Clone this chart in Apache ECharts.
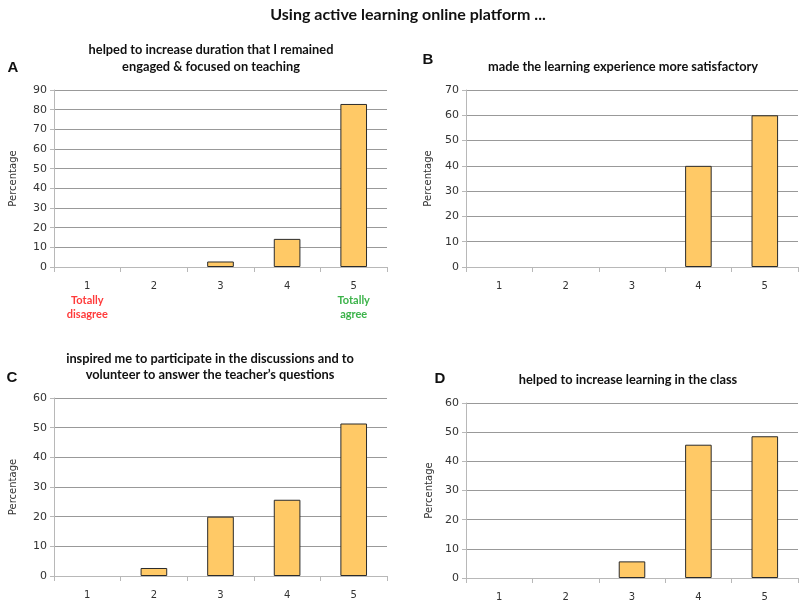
<!DOCTYPE html>
<html>
<head>
<meta charset="utf-8">
<script src="https://cdn.jsdelivr.net/npm/echarts@6/dist/echarts.min.js"></script>
<style>
html,body{margin:0;padding:0;background:#fff;}
#chart{width:799px;height:604px;}
</style>
</head>
<body>
<div id="chart"></div>
<script>
const categories = ['1', '2', '3', '4', '5'];
const valuesA = [0, 0, 2.8, 14.3, 82.9];
const valuesB = [0, 0, 0, 40, 60];
const valuesC = [0, 2.7, 20, 25.7, 51.4];
const valuesD = [0, 0, 5.7, 45.7, 48.6];
const yMaxes = [90, 70, 60, 60];
const mainTitle = 'Using active learning online platform ...';
const panelLetters = ['A', 'B', 'C', 'D'];
const panelTitles = [
  ['helped to increase duration that I remained', 'engaged & focused on teaching'],
  ['made the learning experience more satisfactory'],
  ['inspired me to participate in the discussions and to', 'volunteer to answer the teacher\u2019s questions'],
  ['helped to increase learning in the class']
];
const yName = 'Percentage';

const allValues = [valuesA, valuesB, valuesC, valuesD];
const grids = [
  {left: 54, top: 90, width: 333, height: 177},
  {left: 466, top: 90, width: 332, height: 177},
  {left: 54, top: 398, width: 333, height: 178},
  {left: 466, top: 403, width: 332, height: 177}
];
const nameGaps = [36, 33, 36, 32];
const FONT = 'Lato, "Open Sans", sans-serif';
const TICKFONT = '"DejaVu Sans", Verdana, sans-serif';

const xAxes = grids.map((g, i) => ({
  type: 'category', gridIndex: i, data: categories,
  axisLine: {lineStyle: {color: '#b8b8b8'}},
  axisTick: {show: true, length: 5, lineStyle: {color: '#b8b8b8'}},
  axisLabel: {
    interval: 0, hideOverlap: false,
    color: '#333', fontSize: 10, fontFamily: TICKFONT, margin: 12,
    lineHeight: 14,
    formatter: i === 0 ? function (v) {
      if (v === '1') return v + '\n{r|Totally}\n{r|disagree}';
      if (v === '5') return v + '\n{g|Totally}\n{g|agree}';
      return v;
    } : '{value}',
    rich: {
      r: {color: '#ff3b3b', fontWeight: 'bold', fontSize: 11, fontFamily: FONT, lineHeight: 14},
      g: {color: '#3cb34a', fontWeight: 'bold', fontSize: 11, fontFamily: FONT, lineHeight: 14}
    }
  }
}));

const yAxes = grids.map((g, i) => ({
  type: 'value', gridIndex: i, min: 0, max: yMaxes[i], interval: 10,
  name: yName, nameLocation: 'middle', nameGap: nameGaps[i],
  nameTextStyle: {fontSize: 10, color: '#333', fontFamily: TICKFONT},
  axisLine: {show: true, lineStyle: {color: '#b8b8b8'}},
  axisTick: {show: true, length: 4, lineStyle: {color: '#b8b8b8'}},
  axisLabel: {color: '#333', fontSize: 11, fontFamily: TICKFONT, margin: 7},
  splitLine: {show: true, lineStyle: {color: '#999', width: 1}}
}));

const series = allValues.map((vals, i) => ({
  type: 'bar', xAxisIndex: i, yAxisIndex: i,
  data: vals.map(v => (v === 0 ? '-' : v)),
  barWidth: '40%',
  itemStyle: {color: '#ffc966', borderColor: '#2b2b2b', borderWidth: 1},
  silent: true
}));

const titlePos = [
  {x: 211, y: [50, 67]},
  {x: 623, y: [67]},
  {x: 210, y: [359, 375]},
  {x: 628, y: [380]}
];
const letterPos = [[13, 68], [428, 60], [12, 378], [440, 379]];

const graphics = [{
  type: 'text', x: 408, y: 15,
  style: {text: mainTitle, font: 'bold 16px ' + FONT, fill: '#111', textAlign: 'center', textVerticalAlign: 'middle'}
}];
panelTitles.forEach((lines, i) => {
  lines.forEach((ln, j) => {
    graphics.push({
      type: 'text', x: titlePos[i].x, y: titlePos[i].y[j],
      style: {text: ln, font: 'bold 12.8px ' + FONT, fill: '#111', textAlign: 'center', textVerticalAlign: 'middle'}
    });
  });
  graphics.push({
    type: 'text', x: letterPos[i][0], y: letterPos[i][1],
    style: {text: panelLetters[i], font: 'bold 15px "Liberation Sans", Arial, sans-serif', fill: '#111', textAlign: 'center', textVerticalAlign: 'middle'}
  });
});

const chart = echarts.init(document.getElementById('chart'), null, {renderer: 'canvas'});
chart.setOption({
  animation: false,
  backgroundColor: '#fff',
  grid: grids,
  xAxis: xAxes,
  yAxis: yAxes,
  series: series,
  graphic: graphics
});
</script>
</body>
</html>
